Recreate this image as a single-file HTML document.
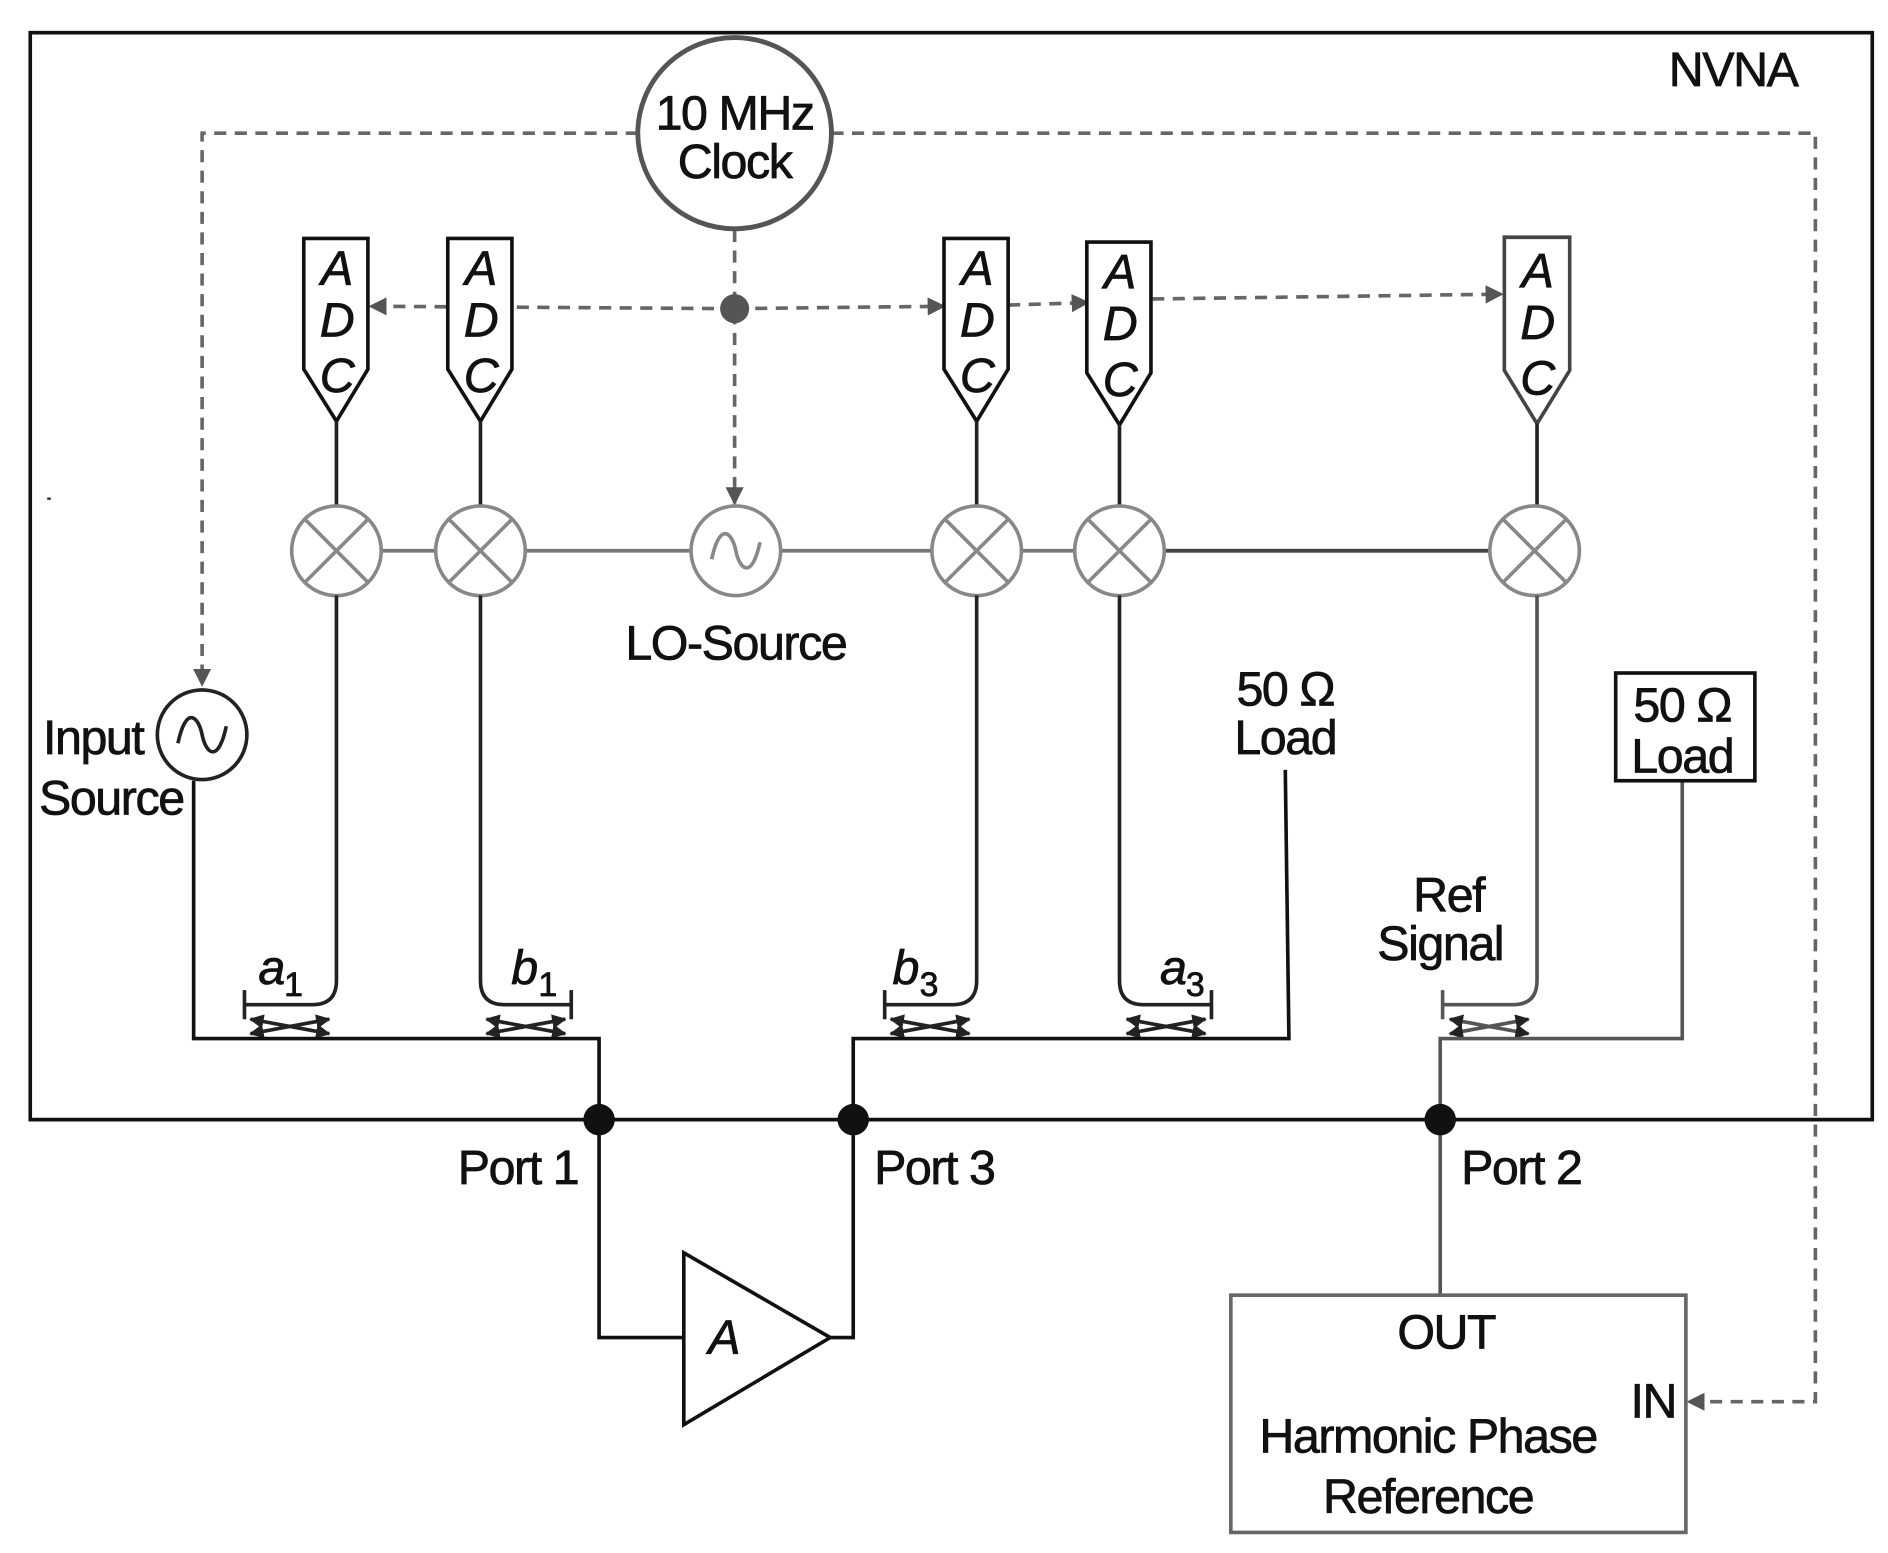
<!DOCTYPE html>
<html><head><meta charset="utf-8"><style>
html,body{margin:0;padding:0;background:#fff;}
svg{display:block;}
text{font-family:"Liberation Sans",sans-serif;font-size:40px;fill:#111;stroke:#111;stroke-width:0.6;text-anchor:middle;letter-spacing:-1.2px;}
.it{font-style:italic;}
</style></head><body>
<svg width="1888" height="1553" viewBox="0 0 1560 1283" preserveAspectRatio="none" xmlns="http://www.w3.org/2000/svg">
<defs>
<marker id="ah" viewBox="0 0 10 10" refX="9" refY="5" markerWidth="5" markerHeight="5" orient="auto-start-reverse"><path d="M0,0 L10,5 L0,10 z" fill="#555"/></marker>
<marker id="sh" viewBox="0 0 10 10" refX="9" refY="5" markerWidth="4" markerHeight="4" orient="auto-start-reverse"><path d="M0,0 L10,5 L0,10 z" fill="#222"/></marker>
</defs>
<rect width="1560" height="1283" fill="#fff"/>
<rect x="25" y="27" width="1522" height="898" fill="none" stroke="#111" stroke-width="3"/>
<text x="1432" y="71">NVNA</text>
<g fill="none" stroke="#666" stroke-width="3" stroke-dasharray="10,7">
<path d="M527 110 L167 110 L167 566" marker-end="url(#ah)"/>
<path d="M687 110 L1500 110 L1500 1158 L1395 1158" marker-end="url(#ah)"/>
<path d="M607 190 L607 416" marker-end="url(#ah)"/>
<path d="M607 255 L306 253" marker-end="url(#ah)"/>
<path d="M607 255 L780 253" marker-end="url(#ah)"/>
<path d="M833 252 L899 250" marker-end="url(#ah)"/>
<path d="M952 247 L1241 243" marker-end="url(#ah)"/>
</g>
<circle cx="607" cy="255" r="12" fill="#555"/>
<ellipse cx="607" cy="110" rx="80" ry="79" fill="#fff" stroke="#555" stroke-width="4"/>
<text x="607" y="107">10 MHz</text>
<text x="607" y="147">Clock</text>
<g fill="#fff" stroke="#111" stroke-width="3">
<path d="M251 197 L304 197 L304 305 L278 348 L251 305 Z"/>
<path d="M370 197 L423 197 L423 305 L397 348 L370 305 Z"/>
<path d="M780 197 L833 197 L833 305 L807 348 L780 305 Z"/>
<path d="M898 200 L951 200 L951 308 L925 351 L898 308 Z"/>
</g>
<path d="M1243 196 L1297 196 L1297 306 L1270 350 L1243 306 Z" fill="#fff" stroke="#444" stroke-width="3"/>
<text class="it" x="278" y="235">A</text><text class="it" x="278" y="278">D</text><text class="it" x="278" y="324">C</text>
<text class="it" x="397" y="235">A</text><text class="it" x="397" y="278">D</text><text class="it" x="397" y="324">C</text>
<text class="it" x="807" y="235">A</text><text class="it" x="807" y="278">D</text><text class="it" x="807" y="324">C</text>
<text class="it" x="925" y="238">A</text><text class="it" x="925" y="281">D</text><text class="it" x="925" y="327">C</text>
<text class="it" x="1270" y="237">A</text><text class="it" x="1270" y="280">D</text><text class="it" x="1270" y="326">C</text>
<g stroke="#222" stroke-width="3">
<line x1="278" y1="348" x2="278" y2="418"/>
<line x1="397" y1="348" x2="397" y2="418"/>
<line x1="807" y1="348" x2="807" y2="418"/>
<line x1="925" y1="351" x2="925" y2="418"/>
<line x1="1270" y1="350" x2="1270" y2="418"/>
</g>
<line x1="315" y1="455" x2="1231" y2="455" stroke="#777" stroke-width="3"/>
<line x1="962" y1="455" x2="1231" y2="455" stroke="#444" stroke-width="3"/>
<g fill="#fff" stroke="#888" stroke-width="3">
<circle cx="278" cy="455" r="37"/><circle cx="397" cy="455" r="37"/>
<circle cx="807" cy="455" r="37"/><circle cx="925" cy="455" r="37"/>
<circle cx="1268" cy="455" r="37"/>
<circle cx="608" cy="455" r="37"/>
<path d="M252 429 L304 481 M304 429 L252 481 M371 429 L423 481 M423 429 L371 481 M781 429 L833 481 M833 429 L781 481 M899 429 L951 481 M951 429 L899 481 M1242 429 L1294 481 M1294 429 L1242 481"/>
<path d="M588 462 C595 430 605 440 608 455 C611 470 621 480 628 448" fill="none"/>
</g>
<text x="608" y="545">LO-Source</text>
<g fill="none" stroke="#222" stroke-width="3">
<path d="M278 492 L278 810 Q278 830 258 830 L202 830 M202 818 L202 842"/>
<path d="M397 492 L397 810 Q397 830 417 830 L472 830 M472 818 L472 842"/>
<path d="M807 492 L807 810 Q807 830 787 830 L731 830 M731 818 L731 842"/>
<path d="M925 492 L925 810 Q925 830 945 830 L1001 830 M1001 818 L1001 842"/>
</g>
<path d="M1270 492 L1270 810 Q1270 830 1250 830 L1192 830 M1192 818 L1192 842" fill="none" stroke="#555" stroke-width="3"/>
<g stroke="#222" stroke-width="3">
<line x1="207" y1="842" x2="272" y2="854" marker-start="url(#sh)" marker-end="url(#sh)"/>
<line x1="207" y1="854" x2="272" y2="842" marker-start="url(#sh)" marker-end="url(#sh)"/>
<line x1="402" y1="842" x2="467" y2="854" marker-start="url(#sh)" marker-end="url(#sh)"/>
<line x1="402" y1="854" x2="467" y2="842" marker-start="url(#sh)" marker-end="url(#sh)"/>
<line x1="736" y1="842" x2="801" y2="854" marker-start="url(#sh)" marker-end="url(#sh)"/>
<line x1="736" y1="854" x2="801" y2="842" marker-start="url(#sh)" marker-end="url(#sh)"/>
<line x1="931" y1="842" x2="996" y2="854" marker-start="url(#sh)" marker-end="url(#sh)"/>
<line x1="931" y1="854" x2="996" y2="842" marker-start="url(#sh)" marker-end="url(#sh)"/>
<line x1="1198" y1="842" x2="1263" y2="854" stroke="#555" marker-start="url(#sh)" marker-end="url(#sh)"/>
<line x1="1198" y1="854" x2="1263" y2="842" stroke="#555" marker-start="url(#sh)" marker-end="url(#sh)"/>
</g>
<text class="it" x="224" y="813">a</text><text x="242" y="823" style="font-size:28px">1</text>
<text class="it" x="433" y="813">b</text><text x="452" y="823" style="font-size:28px">1</text>
<text class="it" x="748" y="813">b</text><text x="767" y="823" style="font-size:28px">3</text>
<text class="it" x="969" y="813">a</text><text x="987" y="823" style="font-size:28px">3</text>
<g fill="none" stroke="#111" stroke-width="3">
<path d="M160 645 L160 858 L495 858 L495 1105 L565 1105"/>
<path d="M686 1105 L705 1105 L705 858 L1065 858 L1062 636"/>
<line x1="25" y1="925" x2="1547" y2="925"/>
</g>
<path d="M1190 1070 L1190 858 L1390 858 L1390 645" fill="none" stroke="#555" stroke-width="3"/>
<circle cx="167" cy="607" r="37" fill="#fff" stroke="#222" stroke-width="3"/>
<path d="M147 614 C154 582 164 592 167 607 C170 622 180 632 187 600" fill="none" stroke="#222" stroke-width="3"/>
<text x="77" y="623">Input</text>
<text x="92" y="673">Source</text>
<text x="1062" y="583">50 Ω</text>
<text x="1062" y="623">Load</text>
<rect x="1335" y="556" width="115" height="89" fill="#fff" stroke="#111" stroke-width="3"/>
<text x="1390" y="596">50 Ω</text>
<text x="1390" y="638">Load</text>
<text x="1197" y="753">Ref</text>
<text x="1190" y="793">Signal</text>
<circle cx="495" cy="925" r="13" fill="#111"/>
<circle cx="705" cy="925" r="13" fill="#111"/>
<circle cx="1190" cy="925" r="13" fill="#111"/>
<text x="428" y="978">Port 1</text>
<text x="772" y="978">Port 3</text>
<text x="1257" y="978">Port 2</text>
<path d="M565 1035 L565 1177 L686 1105 Z" fill="#fff" stroke="#111" stroke-width="3"/>
<text class="it" x="598" y="1118">A</text>
<rect x="1017" y="1070" width="376" height="196" fill="#fff" stroke="#666" stroke-width="3"/>
<text x="1195" y="1114">OUT</text>
<text x="1366" y="1171">IN</text>
<text x="1180" y="1200">Harmonic Phase</text>
<text x="1180" y="1250">Reference</text>
<rect x="39" y="411" width="3" height="2" fill="#333"/>
</svg>
</body></html>
